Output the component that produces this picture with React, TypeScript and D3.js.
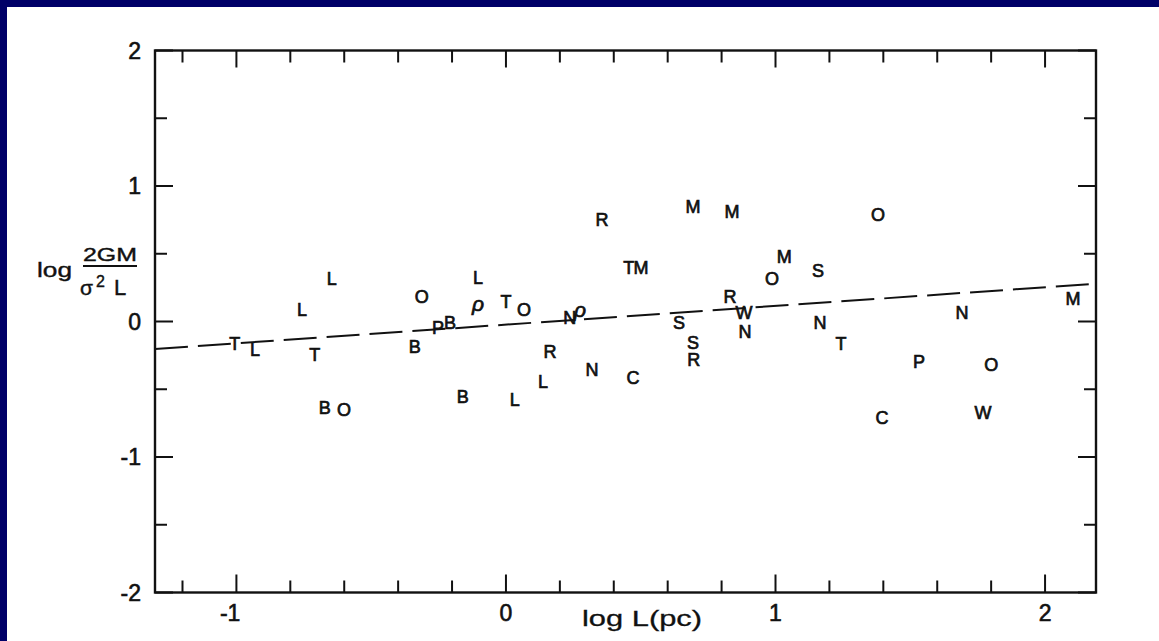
import React from "react";
import * as d3 from "d3";

// ---- data ----
const letters = [
  "T", "L", "L", "L", "T", "B", "O", "O", "B", "P", "B", "L", "ρ", "T", "O", "N", "ρ", "R", "T", "M",
  "R", "N", "C", "B", "L", "L", "M", "M", "S", "S", "R", "R", "W", "N", "O", "M", "S", "O", "N", "T",
  "P", "C", "N", "O", "W", "M",
];
const logL = [
  -1.006, -0.931, -0.757, -0.646, -0.709, -0.672, -0.601, -0.312, -0.338, -0.252, -0.208, -0.104, -0.104, 0.0, 0.067, 0.237, 0.275, 0.356, 0.456, 0.501,
  0.163, 0.319, 0.471, -0.16, 0.033, 0.137, 0.694, 0.839, 0.642, 0.694, 0.697, 0.831, 0.883, 0.887, 0.987, 1.032, 1.158, 1.38, 1.165, 1.243,
  1.532, 1.395, 1.692, 1.8, 1.77, 2.104,
];
const logRatio = [
  -0.159, -0.21, 0.092, 0.314, -0.247, -0.638, -0.646, 0.181, -0.188, -0.041, -0.011, 0.328, 0.107, 0.144, 0.085, 0.033, 0.063, 0.756, 0.395, 0.395,
  -0.218, -0.358, -0.417, -0.557, -0.579, -0.446, 0.845, 0.808, -0.011, -0.155, -0.283, 0.181, 0.063, -0.077, 0.314, 0.476, 0.373, 0.786, -0.011, -0.166,
  -0.299, -0.705, 0.063, -0.321, -0.675, 0.173,
];

// fitted dashed line: log ratio = a + b * log L
const fitIntercept = -0.023;
const fitSlope = 0.138;
const fitRange = [-1.302, 2.167];

const xDomain = [-1.302, 2.189];
const yDomain = [-2, 2];
const xMajorTicks = [-1, 0, 1, 2];
const xMinorTicks = [-1.2, -0.8, -0.6, -0.4, -0.2, 0.2, 0.4, 0.6, 0.8, 1.2, 1.4, 1.6, 1.8];
const xTickLabels = ["-1", "0", "1", "2"];
const yMajorTicks = [2, 1, 0, -1, -2];
const yMinorTicks = [1.5, 0.5, -0.5, -1.5];
const yTickLabels = ["2", "1", "0", "-1", "-2"];

const W = 1159;
const H = 641;
const left = 155;
const right = 1096;
const top = 50.5;
const bottom = 592.5;

export default function App() {
  const x = d3.scaleLinear().domain(xDomain).range([left, right]);
  const y = d3.scaleLinear().domain(yDomain).range([bottom, top]);

  const fitLine = d3
    .line<number>()
    .x((d) => x(d))
    .y((d) => y(fitIntercept + fitSlope * d));

  const ink = "#111";
  const font = "'Liberation Sans', Arial, sans-serif";

  return (
    <svg
      width={W}
      height={H}
      style={{ position: "absolute", left: 0, top: 0, background: "#fff" }}
      fontFamily={font}
    >
      <rect x={0} y={0} width={W} height={H} fill="#fff" />
      <rect x={0} y={0} width={W} height={7} fill="#000068" />
      <rect x={0} y={0} width={7} height={H} fill="#000068" />

      {/* frame */}
      <rect
        x={left}
        y={top}
        width={right - left}
        height={bottom - top}
        fill="none"
        stroke={ink}
        strokeWidth={2.4}
      />

      {/* x ticks bottom and top */}
      {xMajorTicks.map((t) => (
        <g key={"xM" + t}>
          <line x1={x(t)} x2={x(t)} y1={bottom} y2={bottom - 18} stroke={ink} strokeWidth={2} />
          <line x1={x(t)} x2={x(t)} y1={top} y2={top + 17} stroke={ink} strokeWidth={2} />
        </g>
      ))}
      {xMinorTicks.map((t) => (
        <g key={"xm" + t}>
          <line x1={x(t)} x2={x(t)} y1={bottom} y2={bottom - 12} stroke={ink} strokeWidth={2} />
          <line x1={x(t)} x2={x(t)} y1={top} y2={top + 12} stroke={ink} strokeWidth={2} />
        </g>
      ))}
      {/* y ticks left and right */}
      {yMajorTicks.map((t) => (
        <g key={"yM" + t}>
          <line x1={left} x2={left + 18} y1={y(t)} y2={y(t)} stroke={ink} strokeWidth={2} />
          <line x1={right} x2={right - 18} y1={y(t)} y2={y(t)} stroke={ink} strokeWidth={2} />
        </g>
      ))}
      {yMinorTicks.map((t) => (
        <g key={"ym" + t}>
          <line x1={left} x2={left + 12} y1={y(t)} y2={y(t)} stroke={ink} strokeWidth={2} />
          <line x1={right} x2={right - 12} y1={y(t)} y2={y(t)} stroke={ink} strokeWidth={2} />
        </g>
      ))}

      {/* tick labels */}
      {xMajorTicks.map((t, i) => {
        const lab = xTickLabels[i];
        const neg = lab.startsWith("-");
        return (
          <text
            key={"xl" + t}
            x={neg ? x(t) + 4 : x(t)}
            y={621}
            fontSize={23}
            textAnchor={neg ? "end" : "middle"}
            fill={ink}
            stroke={ink}
            strokeWidth={0.6}
          >
            {lab}
          </text>
        );
      })}
      {yMajorTicks.map((t, i) => (
        <text
          key={"yl" + t}
          x={141}
          y={y(t)}
          dy="0.36em"
          fontSize={23}
          textAnchor="end"
          fill={ink}
          stroke={ink}
          strokeWidth={0.6}
        >
          {yTickLabels[i]}
        </text>
      ))}

      {/* axis titles */}
      <text
        x={582}
        y={626}
        fontSize={22}
        textLength={120}
        lengthAdjust="spacingAndGlyphs"
        fill={ink}
        stroke={ink}
        strokeWidth={0.3}
      >
        log L(pc)
      </text>
      <g fill={ink} stroke={ink} strokeWidth={0.4}>
        <text x={37} y={277} fontSize={21} textLength={35} lengthAdjust="spacingAndGlyphs">
          log
        </text>
        <text x={83} y={261} fontSize={19} textLength={54} lengthAdjust="spacingAndGlyphs">
          2GM
        </text>
        <text x={80} y={295} fontSize={21}>
          σ
        </text>
        <text x={96} y={287} fontSize={16}>
          2
        </text>
        <text x={114} y={295} fontSize={22}>
          L
        </text>
      </g>
      <line x1={83} x2={137} y1={266} y2={266} stroke={ink} strokeWidth={2} />

      {/* dashed fit line */}
      <path
        d={fitLine(fitRange) || ""}
        fill="none"
        stroke={ink}
        strokeWidth={2}
        strokeDasharray="33 10"
      />

      {/* letter points */}
      {letters.map((lab, i) => {
        const isRho = lab === "ρ";
        return (
          <text
            key={"p" + i}
            x={x(logL[i])}
            y={y(logRatio[i])}
            dy={isRho ? "0.2em" : "0.36em"}
            fontSize={isRho ? 21 : 18}
            fontStyle={isRho ? "italic" : "normal"}
            textAnchor="middle"
            fill={ink}
            stroke={ink}
            strokeWidth={0.7}
          >
            {lab}
          </text>
        );
      })}
    </svg>
  );
}
